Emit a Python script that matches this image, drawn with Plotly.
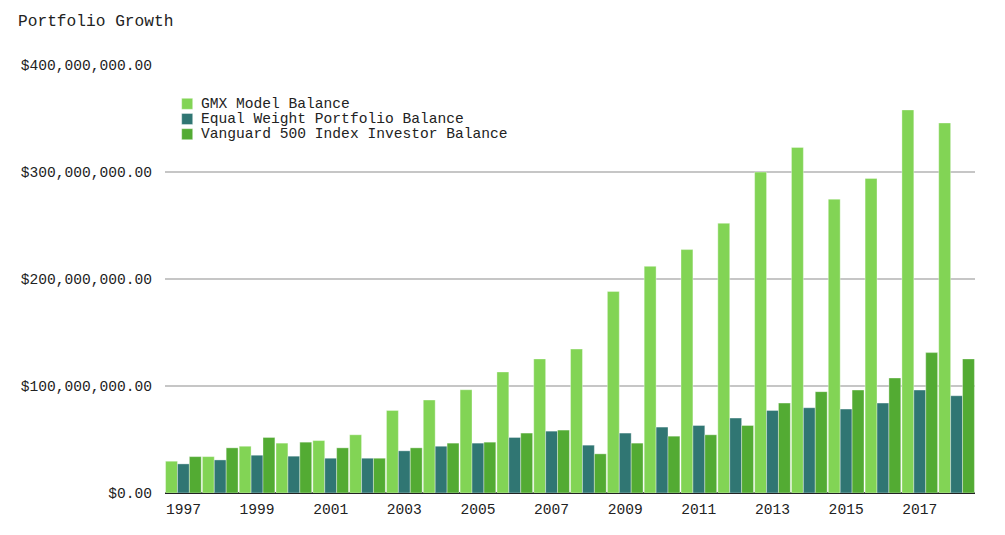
import plotly.graph_objects as go

years = [str(y) for y in range(1997, 2019)]
gmx = [29.7, 34.0, 43.7, 46.6, 49.0, 54.4, 77.2, 86.9, 96.5, 113.1, 125.3,
       134.5, 188.4, 211.8, 227.5, 252.1, 299.9, 323.0, 274.6, 294.0, 358.0, 345.8]
equal_weight = [27.2, 30.9, 35.3, 34.4, 32.5, 32.5, 39.4, 43.7, 46.6, 51.9, 57.8,
                44.7, 56.0, 61.6, 63.1, 70.0, 77.2, 79.7, 78.4, 84.0, 96.2, 90.9]
vanguard = [34.0, 42.2, 51.9, 47.5, 42.2, 32.5, 42.2, 46.6, 47.5, 56.0, 58.8,
            36.6, 46.6, 53.1, 54.4, 63.1, 84.0, 94.7, 96.2, 107.5, 131.2, 125.3]
tick_years = [str(y) for y in range(1997, 2019, 2)]

series = [
    ("GMX Model Balance", gmx, "#82d455"),
    ("Equal Weight Portfolio Balance", equal_weight, "#307673"),
    ("Vanguard 500 Index Investor Balance", vanguard, "#53ab33"),
]

font_family = "Liberation Mono, DejaVu Sans Mono, monospace"
text_color = "#222222"

fig = go.Figure()
for name, vals, color in series:
    fig.add_trace(go.Bar(
        x=years, y=[v * 1e6 for v in vals], name=name,
        marker=dict(color=color, line=dict(color="rgba(255,255,255,0.6)", width=0.6)),
        showlegend=False,
    ))

# Plot area in window pixels: x 165..975, y 65..493 (page has 8px body margin)
PX0, PX1, PY0, PY1 = 165, 975, 65, 493
def px(x):
    return (x - PX0) / (PX1 - PX0)
def py(y):
    return (PY1 - y) / (PY1 - PY0)

shapes = []
annotations = []
for i, (name, vals, color) in enumerate(series):
    top = 98.3 + i * 15.2
    shapes.append(dict(type="rect", xref="paper", yref="paper",
                       x0=px(181.7), x1=px(192.7), y0=py(top + 11), y1=py(top),
                       fillcolor=color, line=dict(color="rgba(255,255,255,0.6)", width=0.6)))
    annotations.append(dict(text=name, xref="paper", yref="paper",
                            x=px(198.5), y=py(top + 5.5), xanchor="left", yanchor="middle",
                            showarrow=False, font=dict(family=font_family, size=14.6, color=text_color)))

fig.update_layout(
    width=1005, height=535,
    barmode="group", bargap=0.03, bargroupgap=0,
    plot_bgcolor="white", paper_bgcolor="white",
    font=dict(family=font_family, size=14.6, color=text_color),
    title=dict(text="Portfolio Growth", x=10 / 1005, xanchor="left", y=1 - 12 / 535, yanchor="middle",
               font=dict(family=font_family, size=16.2, color=text_color)),
    margin=dict(l=157, r=38, t=57, b=50),
    shapes=shapes,
    annotations=annotations,
    showlegend=False,
)
fig.update_yaxes(range=[0, 400e6], dtick=100e6, tickformat="$,.2f",
                 showgrid=True, gridcolor="#c6c6c6", gridwidth=1.5,
                 zeroline=True, zerolinecolor="#222222", zerolinewidth=2,
                 ticks="", ticklabelstandoff=12, showline=False)
fig.update_xaxes(type="category", tickmode="array", tickvals=tick_years, ticktext=tick_years,
                 showgrid=False, ticks="", showline=False, tickangle=0, ticklabelstandoff=5)

fig.write_html("out.html")
